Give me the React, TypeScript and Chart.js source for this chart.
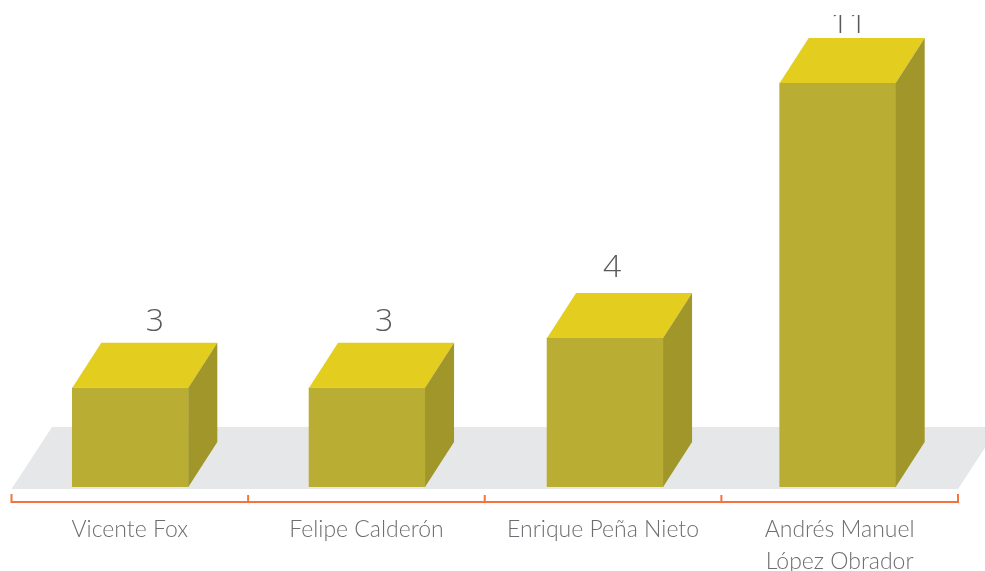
import React, { useEffect, useRef } from "react";
import { Chart, registerables } from "chart.js";

Chart.register(...registerables);

const categories: (string | string[])[] = [
  "Vicente Fox",
  "Felipe Calderón",
  "Enrique Peña Nieto",
  ["Andrés Manuel", "López Obrador"],
];
// Numbers printed above the boxes
const valueLabels = ["3", "3", "4", "11"];
// Heights of the boxes as drawn in the picture (the source art is not strictly to scale)
const drawnHeights = [2.7, 2.7, 4.06, 11];

const FONT = "Lato, 'Open Sans', sans-serif";
const DIGIT_FONT = "'Open Sans', Lato, sans-serif";
const DEPTH_X = 29;
const DEPTH_Y = 45;
const barNudge = [0.5, 0.6, 2, -2];
const labelNudgeX = [24.5, 17, 7, 11];
const labelNudgeY = [-12, -12, -16, -5];
const LABEL_CLIP_TOP = 15;

const box3d = {
  id: "box3d",
  afterDatasetsUpdate(chart: any) {
    const meta = chart.getDatasetMeta(0);
    meta.data.forEach((el: any, i: number) => {
      el.x += barNudge[i];
    });
  },
  beforeDatasetsDraw(chart: any) {
    const { ctx, scales } = chart;
    const x = scales.x;
    const y = scales.y;
    const b = y.bottom;
    // floor
    ctx.save();
    ctx.fillStyle = "#e6e7e8";
    ctx.beginPath();
    ctx.moveTo(x.left, b + 2);
    ctx.lineTo(x.left + 40.5, b - 60);
    ctx.lineTo(x.right + 40.5, b - 60);
    ctx.lineTo(x.right, b + 2);
    ctx.closePath();
    ctx.fill();

    // bracket
    const step = (x.right - x.left) / categories.length;
    ctx.strokeStyle = "#f4743b";
    ctx.lineWidth = 2;
    ctx.beginPath();
    ctx.moveTo(x.left, b + 7);
    ctx.lineTo(x.left, b + 15);
    ctx.lineTo(x.right, b + 15);
    ctx.lineTo(x.right, b + 7);
    for (let i = 1; i < categories.length; i++) {
      ctx.moveTo(x.left + step * i, b + 8);
      ctx.lineTo(x.left + step * i, b + 15);
    }
    ctx.stroke();
    ctx.restore();
  },
  afterDatasetsDraw(chart: any) {
    const { ctx, scales } = chart;
    const meta = chart.getDatasetMeta(0);
    ctx.save();
    meta.data.forEach((el: any, i: number) => {
      const half = el.width / 2;
      const l = el.x - half;
      const r = el.x + half;
      const t = el.y;
      const b = scales.y.bottom;
      ctx.fillStyle = "#e3cd1f";
      ctx.beginPath();
      ctx.moveTo(l, t);
      ctx.lineTo(l + DEPTH_X, t - DEPTH_Y);
      ctx.lineTo(r + DEPTH_X, t - DEPTH_Y);
      ctx.lineTo(r, t);
      ctx.closePath();
      ctx.fill();

      ctx.fillStyle = "#a0962a";
      ctx.beginPath();
      ctx.moveTo(r, t);
      ctx.lineTo(r + DEPTH_X, t - DEPTH_Y);
      ctx.lineTo(r + DEPTH_X, b - DEPTH_Y);
      ctx.lineTo(r, b);
      ctx.closePath();
      ctx.fill();

      ctx.save();
      ctx.beginPath();
      ctx.rect(0, LABEL_CLIP_TOP, chart.width, chart.height);
      ctx.clip();
      ctx.fillStyle = "#58595b";
      ctx.font = `300 32px ${DIGIT_FONT}`;
      ctx.textAlign = "center";
      ctx.textBaseline = "alphabetic";
      ctx.fillText(
        valueLabels[i],
        el.x + labelNudgeX[i],
        t - DEPTH_Y + labelNudgeY[i]
      );
      ctx.restore();
    });
    ctx.restore();
  },
};

export default function App() {
  const ref = useRef<HTMLCanvasElement>(null);
  useEffect(() => {
    const chart = new Chart(ref.current!, {
      type: "bar",
      data: {
        labels: categories as any,
        datasets: [
          {
            data: drawnHeights,
            backgroundColor: "#b9ae33",
            barThickness: 116,
            borderWidth: 0,
          },
        ],
      },
      options: {
        responsive: false,
        animation: false,
        layout: { padding: { left: 11.5, right: 27, top: 0, bottom: 0 } },
        plugins: { legend: { display: false }, tooltip: { enabled: false } },
        scales: {
          x: {
            grid: { display: false },
            border: { display: false },
            afterFit: (axis: any) => {
              axis.height = 84;
            },
            ticks: {
              autoSkip: false,
              maxRotation: 0,
              minRotation: 0,
              padding: 19,
              color: "#6d6e71",
              font: { family: FONT, size: 23, weight: "300", lineHeight: 1.39 },
            },
          },
          y: { display: false, min: 0, max: 13.26 },
        },
      },
      plugins: [box3d],
    } as any);
    return () => chart.destroy();
  }, []);
  return (
    <canvas
      ref={ref}
      width={985}
      height={571}
      style={{ position: "absolute", left: 0, top: 0, display: "block", width: 985, height: 571 }}
    />
  );
}
